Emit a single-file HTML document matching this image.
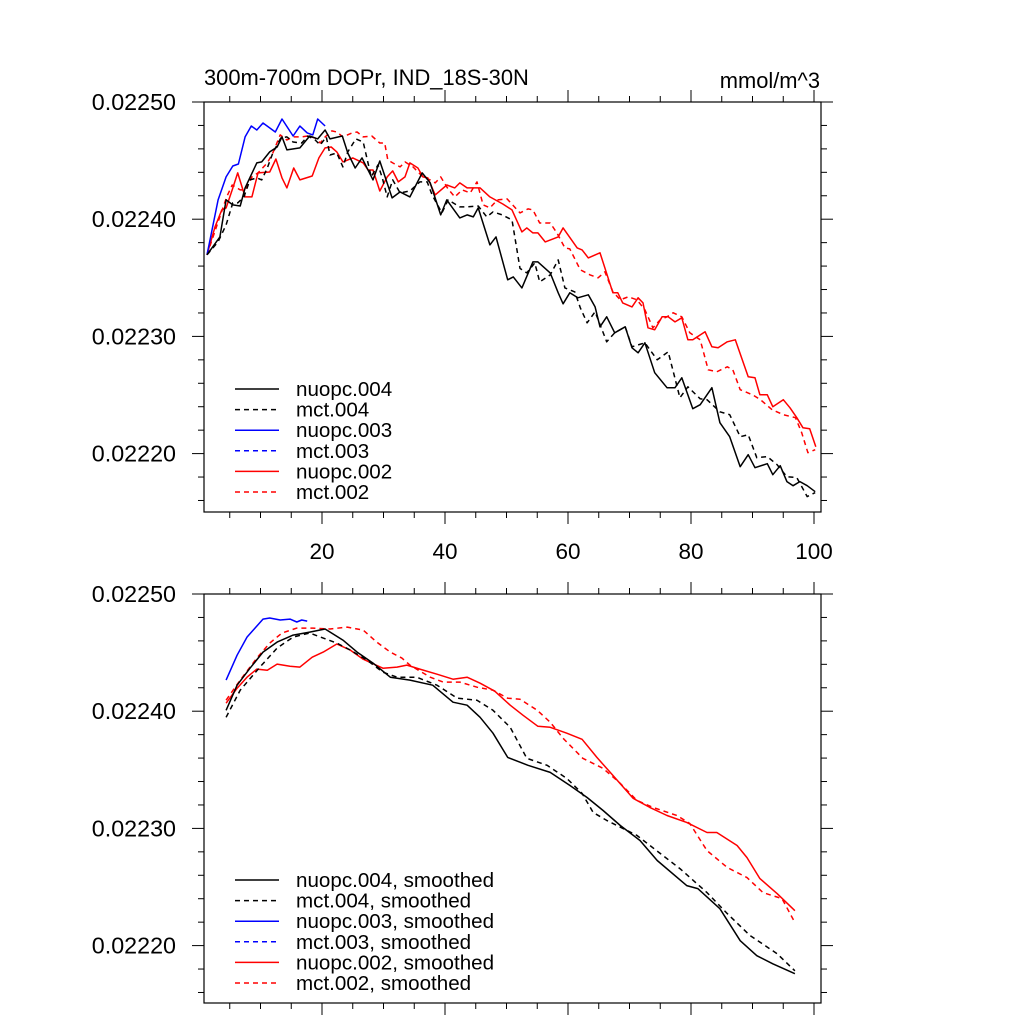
<!DOCTYPE html>
<html><head><meta charset="utf-8">
<style>
html,body{margin:0;padding:0;background:#fff;}
svg{display:block;font-family:"Liberation Sans",Arial,sans-serif;}
</style></head>
<body>
<svg id="chart" width="1024" height="1024" viewBox="0 0 1024 1024" xmlns="http://www.w3.org/2000/svg">
<text x="204" y="85" font-size="21.9">300m-700m DOPr, IND_18S-30N</text>
<text x="820" y="88" font-size="21.9" text-anchor="end">mmol/m^3</text>
<g id="top"></g>
<g id="bot"></g>
</svg>
<script>
// values in units of 1e-6 mmol/m^3
const yTicks = [22500, 22400, 22300, 22200];
const yTickLabels = ["0.02250", "0.02240", "0.02230", "0.02220"];
const xTicks = [20, 40, 60, 80, 100];
const xTickLabels = ["20", "40", "60", "80", "100"];

const nuopc004X = [1.3,3.4,4.4,5.5,6.7,7.5,9.4,10.2,11.5,12.7,13.5,14.3,16.4,18,19.3,20.5,21.3,23.3,24.2,25.4,26.5,28.3,29.4,31.4,32.7,34.3,36.3,37.6,39.3,40.3,42.4,43.6,44.6,45.4,47.3,48.3,50.2,51.1,52.5,54.3,55.1,57.1,58.4,59.2,60.3,61.6,63.3,64.4,65.2,66.3,67.6,69.3,70.4,71.4,72.5,74.1,76.1,77.4,78.5,80.3,81.5,83.4,84.7,86.3,88,89.3,90.4,92.4,93.3,94.5,95.6,96.6,97.7,98.9,100.2];
const nuopc004Y = [22369.6,22384.9,22416.5,22412.2,22411.3,22426.7,22448,22448.9,22457.4,22461.6,22470.2,22459.1,22460.8,22471,22468.5,22476.1,22468.5,22471,22456.5,22443.7,22452.3,22433.5,22449.7,22418.2,22423.3,22419,22439.5,22431,22403.7,22416.5,22401.1,22403.7,22402,22409.6,22378.1,22384.9,22348.3,22350.8,22341.4,22363.6,22363.6,22354.2,22337.2,22327.8,22337.2,22332.9,22335.5,22325.2,22308.2,22316.7,22303.1,22308.2,22290.3,22286,22294.5,22269,22256.2,22256.2,22264.7,22238.3,22241.7,22256.2,22226.4,22214.4,22188.8,22199.1,22188,22191.4,22182,22189.7,22176.1,22172.6,22176.1,22172.6,22167.5];

const mct004X = [1.3,3.1,4.4,5.5,6.3,7.3,8.3,9.4,10.2,11.1,12,13.3,14.3,15.3,16.7,17.7,18.9,19.7,20.7,21.3,22.4,23.4,24.2,25.5,26.7,28,29.1,29.8,30.6,31.5,32.7,34.3,35.9,37.1,37.9,39.5,40.5,42.4,43.6,45.4,46.8,47.8,49.3,50.9,52.2,53.3,54.6,55.4,57.1,58.4,59.5,61.1,62,63.1,64.4,66.3,67.6,69.3,70.4,72.5,74.5,76.3,78.2,79.5,81.5,82.6,84.7,86.3,88,89.3,90.7,92.4,94,95.6,97.2,98.9,100.2];
const mct004Y = [22369.6,22380.7,22395.1,22413.9,22413.9,22419,22433.5,22435.2,22433.5,22443.7,22456.5,22469.3,22470.2,22465.9,22465,22471,22467.6,22463.3,22470.2,22454.8,22456.5,22444.6,22457.4,22468.5,22465.9,22436.1,22446.3,22435.2,22419,22433.5,22422.4,22424.1,22431.8,22431.8,22420.7,22405.4,22416.5,22410.5,22410.5,22411.3,22402,22406.2,22403.7,22399.4,22358,22354.2,22362.7,22346.5,22352.5,22365.3,22341.4,22338,22324.4,22311.6,22321,22295.4,22303.1,22308.2,22291.1,22294.5,22280,22286.9,22247.7,22257,22246.8,22246,22235.7,22233.2,22214.4,22216.1,22196.5,22197.4,22190.5,22180.3,22179.5,22163.3,22166.7];

const nuopc003X = [1.3,3.1,4.4,5.5,6.4,7.5,8.5,9.4,10.4,12.4,13.5,15.3,16.4,17.6,18.5,19.3,20.5];
const nuopc003Y = [22369.6,22416.5,22436.1,22445.4,22447.1,22470.2,22479.5,22476.1,22482.1,22474.4,22485.5,22471,22479.5,22473.6,22471.9,22485.5,22479.5];

const nuopc002X = [1.3,2.6,3.7,4.4,5.4,6.3,7.5,8.6,9.6,11.5,12.5,13.5,14.3,15.4,16.4,18.4,19.5,20.5,21.5,22.4,23.4,25,26.7,27.5,28.3,29.4,30.6,31.5,32.4,33.5,34.3,35.6,36.4,37.2,38.4,40.3,41.6,42.4,43.6,45.7,47.3,49.4,50.9,52.5,53.3,54.3,55.1,56.3,58.4,59.2,61.5,62.3,63.3,65.2,67.3,68.1,68.9,70.4,71.4,72.2,73,74.1,75.3,76.3,77.4,78.5,79.5,80.3,82.3,83.4,84.4,85.9,87.2,89.3,90.4,91.2,92.4,93.3,95,96.1,97.2,98.2,99.3,100.3];
const nuopc002Y = [22369.6,22393.4,22407.9,22409.6,22425,22439.5,22419,22419,22439.5,22440.3,22451.4,22435.2,22426.7,22443.7,22433.5,22436.9,22452.3,22460.8,22461.6,22457.4,22448.9,22452.3,22448,22442,22442,22424.1,22436.1,22441.2,22431.8,22436.1,22448,22443.7,22436.1,22435.2,22420.7,22429.2,22426.7,22431,22426.7,22426.7,22419,22413,22407.9,22389.2,22392.6,22388.3,22388.3,22380.6,22384.9,22392.6,22375.5,22373.8,22367,22371.3,22337.2,22337.2,22328.6,22325.2,22332.9,22328.6,22307.3,22305.6,22316.7,22316.7,22312.4,22315.9,22297.1,22297.1,22303.9,22291.1,22290.3,22295.4,22297.1,22265.6,22264.7,22250.2,22250.2,22240,22246,22239.1,22230.6,22222.1,22221.2,22205.9];

const mct002X = [1.3,3.1,4.5,5.4,6.7,7.5,8.6,9.6,11.1,12,13.2,14.3,15.3,16.7,17.7,18.9,19.7,20.5,21.6,22.4,23.4,24.9,25.7,26.7,28.1,29.4,30.2,30.7,31.5,32.7,33.5,34.8,36.4,37.6,38.4,39.3,40.5,41.6,42.8,44.1,45.2,46.2,47.3,48.5,50.1,52.2,53.5,54.3,55.4,57.1,58.2,59.5,60.3,62,63.6,64.9,66,67.3,68.5,69.8,71.2,72.5,73.8,75,76.1,77.1,78.5,79.8,81.5,82.8,84.2,85.9,86.8,88,90,91.3,93.2,95,97,98,99,100.2];
const mct002Y = [22369.6,22397.7,22419,22429.2,22425,22425,22436.1,22439.5,22448,22456.5,22471.9,22467.6,22470.2,22470.2,22471,22469.3,22465,22470.2,22475.3,22474.4,22470.2,22473.6,22474.4,22470.2,22471,22465,22465,22450.6,22448,22444.6,22448.9,22444.6,22436.1,22433.5,22431,22436.1,22425.8,22419,22425,22422.4,22431.8,22412.2,22409.6,22416.5,22417.3,22405.4,22408.8,22407.9,22396.8,22396.8,22388.3,22375.5,22374.7,22356.8,22352.5,22350,22355.1,22338,22331.2,22333.8,22331.2,22322.7,22307.3,22314.2,22316.7,22320.1,22316.7,22303.1,22297.1,22271.5,22269.8,22274.1,22271.5,22254.5,22250.2,22246,22237.4,22233.2,22230.6,22217.8,22200.8,22203.3];

// smoothed
const sNuopc004X = [4.4,6.2,8.3,10.4,12.7,15.3,18,20.5,23.4,25.7,28.3,31.1,34.3,38,41.3,43.6,45.7,47.8,50.2,53.5,57.1,60.3,63.1,65.7,68.5,71.7,74.5,79.3,81.1,84.7,88,90.7,93.3,96.9];
const sNuopc004Y = [22400.8,22422.2,22436.7,22450.4,22459,22464.9,22467.5,22470.1,22460.7,22450.4,22441,22429,22426.5,22422.2,22407.7,22405.1,22394.8,22381.2,22360.6,22353.8,22347.8,22336.7,22326.4,22315.3,22302.5,22289.7,22272.6,22251.2,22248.6,22231.5,22204.2,22191.4,22184.5,22176];
const sMct004X = [4.4,6.7,9.9,12.7,15.3,18,20.2,22.4,24.6,27.3,29.9,32.2,35.4,38.7,42,45.2,47.8,50.6,53.3,56.6,59.8,62.3,64.1,66.3,71.2,75,78.2,82.6,85.9,89.6,94,96.9];
const sMct004Y = [22394.8,22417.9,22437.6,22453.8,22463.2,22466.7,22462.4,22458.1,22452.1,22443.6,22433.3,22429,22429,22422.2,22411.1,22409.4,22400.8,22386.3,22359.8,22353.8,22342.7,22329.9,22313.6,22306.8,22294,22278.6,22265.7,22245.2,22227.3,22208.6,22193.1,22178.5];
const sNuopc003X = [4.4,6.2,7.8,9.1,10.4,11.5,13.2,14.8,15.9,16.7,17.6];
const sNuopc003Y = [22426.5,22447.8,22463.2,22470.9,22478.6,22479.5,22477.8,22478.6,22476.1,22477.8,22476.9];
const sNuopc002X = [4.4,6.2,7.8,9.4,11.1,12.7,14.8,16.4,18.4,20.2,22.4,24.6,26.7,29.9,32.2,33.8,35.9,38.7,41.3,43.6,45.7,48.1,50.6,52.7,55.1,57.1,59.8,62.3,64.7,67.3,70.6,73.3,76.1,79.3,82.6,84.2,87.5,89.1,91.2,94,96.9];
const sNuopc002Y = [22406.8,22419.6,22429,22435.9,22435,22440.2,22438.4,22437.6,22446.1,22450.4,22457.3,22452.1,22444.4,22436.7,22437.6,22439.3,22435.9,22431.6,22427.3,22429,22423.9,22417.1,22405.1,22396.5,22387.1,22386.3,22381.2,22376,22360.6,22345.2,22325.6,22317.9,22311,22305.1,22296.5,22296.5,22285.4,22275.1,22257.2,22244.4,22229.8];
const sMct002X = [4.4,6.7,9.4,11.5,13.5,15.9,18.5,21.3,24.1,26.7,28.9,31.1,33,34.3,37.6,39.7,42.4,45.2,47.8,50.2,52.2,55,57.1,59.2,62.4,65.7,68.5,71.2,73.8,77.7,79.8,82.6,85.9,89.1,91.7,94.8,96.9];
const sMct002Y = [22409.4,22426.5,22445.3,22458.1,22466.7,22470.9,22470.9,22470.1,22471.8,22469.2,22459,22450.4,22445.3,22439.3,22429,22424.8,22424.8,22420.5,22417.9,22411.1,22410.2,22400.8,22390.6,22376.9,22359.8,22351.2,22338.4,22323.9,22317.9,22311,22304.2,22281.1,22266.6,22258,22245.2,22240.1,22219.6];

const NS = "http://www.w3.org/2000/svg";
const L = 204, R = 821;
function sx(v){ return 322 + (v - 20) * 6.15; }
function mkY(top){ return function(v){ return top + (22500 - v) / 100 * 117.2; }; }
const syTop = mkY(102), syBot = mkY(594);

function el(tag, attrs, parent){
  const e = document.createElementNS(NS, tag);
  for (const k in attrs) e.setAttribute(k, attrs[k]);
  parent.appendChild(e);
  return e;
}

function axes(g, top, bottom, sy, showX){
  const box = el('rect', {x:L, y:top, width:R-L, height:bottom-top, fill:'none', stroke:'#000', 'stroke-width':1.2}, g);
  
  
  for (let v = 5; v <= 100; v += 5){
    const major = v % 20 === 0;
    const len = major ? 12 : 6;
    const x = sx(v);
    const t1 = el('line', {x1:x, x2:x, y1:top, y2:top-len, stroke:'#000', 'stroke-width':1}, g);
    
    
    const t2 = el('line', {x1:x, x2:x, y1:bottom, y2:bottom+len, stroke:'#000', 'stroke-width':1}, g);
    
    
  }
  if (showX){
    xTicks.forEach((v, i) => {
      const t = el('text', {x:sx(v), y:bottom+47, 'font-size':22.5, 'text-anchor':'middle'}, g);
      t.textContent = xTickLabels[i];
      
      
    });
  }
  for (let v = 22500; v >= 22150; v -= 20){
    const y = sy(v);
    if (y > bottom) break;
    const major = (22500 - v) % 100 === 0;
    const len = major ? 12 : 6;
    const a = el('line', {x1:L, x2:L-len, y1:y, y2:y, stroke:'#000', 'stroke-width':1}, g);
    
    
    const b = el('line', {x1:R, x2:R+len, y1:y, y2:y, stroke:'#000', 'stroke-width':1}, g);
    
    
  }
  yTicks.forEach((v, i) => {
    const t = el('text', {x:176, y:sy(v)+8, 'font-size':23.3, 'text-anchor':'end'}, g);
    t.textContent = yTickLabels[i];
    
    
  });
}

function series(g, xs, ys, sy, color, dashed, name){
  const d = xs.map((x, i) => (i ? 'L' : 'M') + sx(x).toFixed(1) + ' ' + sy(ys[i]).toFixed(1)).join(' ');
  const p = el('path', {d:d, fill:'none', stroke:color, 'stroke-width':1.5, 'stroke-dasharray': dashed ? '5 4' : 'none', 'stroke-linejoin':'round'}, g);
  
  
}

function legend(g, y0, suffix){
  const items = [['nuopc.004','#000',false],['mct.004','#000',true],['nuopc.003','#0000ff',false],['mct.003','#0000ff',true],['nuopc.002','#ff0000',false],['mct.002','#ff0000',true]];
  items.forEach((it, i) => {
    const y = y0 + i * 20.6;
    const ln = el('line', {x1:235, x2:279, y1:y, y2:y, stroke:it[1], 'stroke-width':1.5, 'stroke-dasharray': it[2] ? '5 4' : 'none'}, g);
    
    
    const t = el('text', {x:296, y:y+7, 'font-size':20.6}, g);
    t.textContent = it[0] + suffix;
    
    
  });
}

const gt = document.getElementById('top');
axes(gt, 102, 512, syTop, true);
series(gt, nuopc002X, nuopc002Y, syTop, '#ff0000', false, 'line-nuopc-002');
series(gt, mct002X, mct002Y, syTop, '#ff0000', true, 'line-mct-002');
series(gt, nuopc003X, nuopc003Y, syTop, '#0000ff', false, 'line-nuopc-003');
series(gt, mct004X, mct004Y, syTop, '#000', true, 'line-mct-004');
series(gt, nuopc004X, nuopc004Y, syTop, '#000', false, 'line-nuopc-004');
legend(gt, 389, '');

const gb = document.getElementById('bot');
axes(gb, 594, 1003, syBot, false);
series(gb, sNuopc002X, sNuopc002Y, syBot, '#ff0000', false, 'line-nuopc-002-smoothed');
series(gb, sMct002X, sMct002Y, syBot, '#ff0000', true, 'line-mct-002-smoothed');
series(gb, sNuopc003X, sNuopc003Y, syBot, '#0000ff', false, 'line-nuopc-003-smoothed');
series(gb, sMct004X, sMct004Y, syBot, '#000', true, 'line-mct-004-smoothed');
series(gb, sNuopc004X, sNuopc004Y, syBot, '#000', false, 'line-nuopc-004-smoothed');
legend(gb, 880, ', smoothed');
</script>
</body></html>
